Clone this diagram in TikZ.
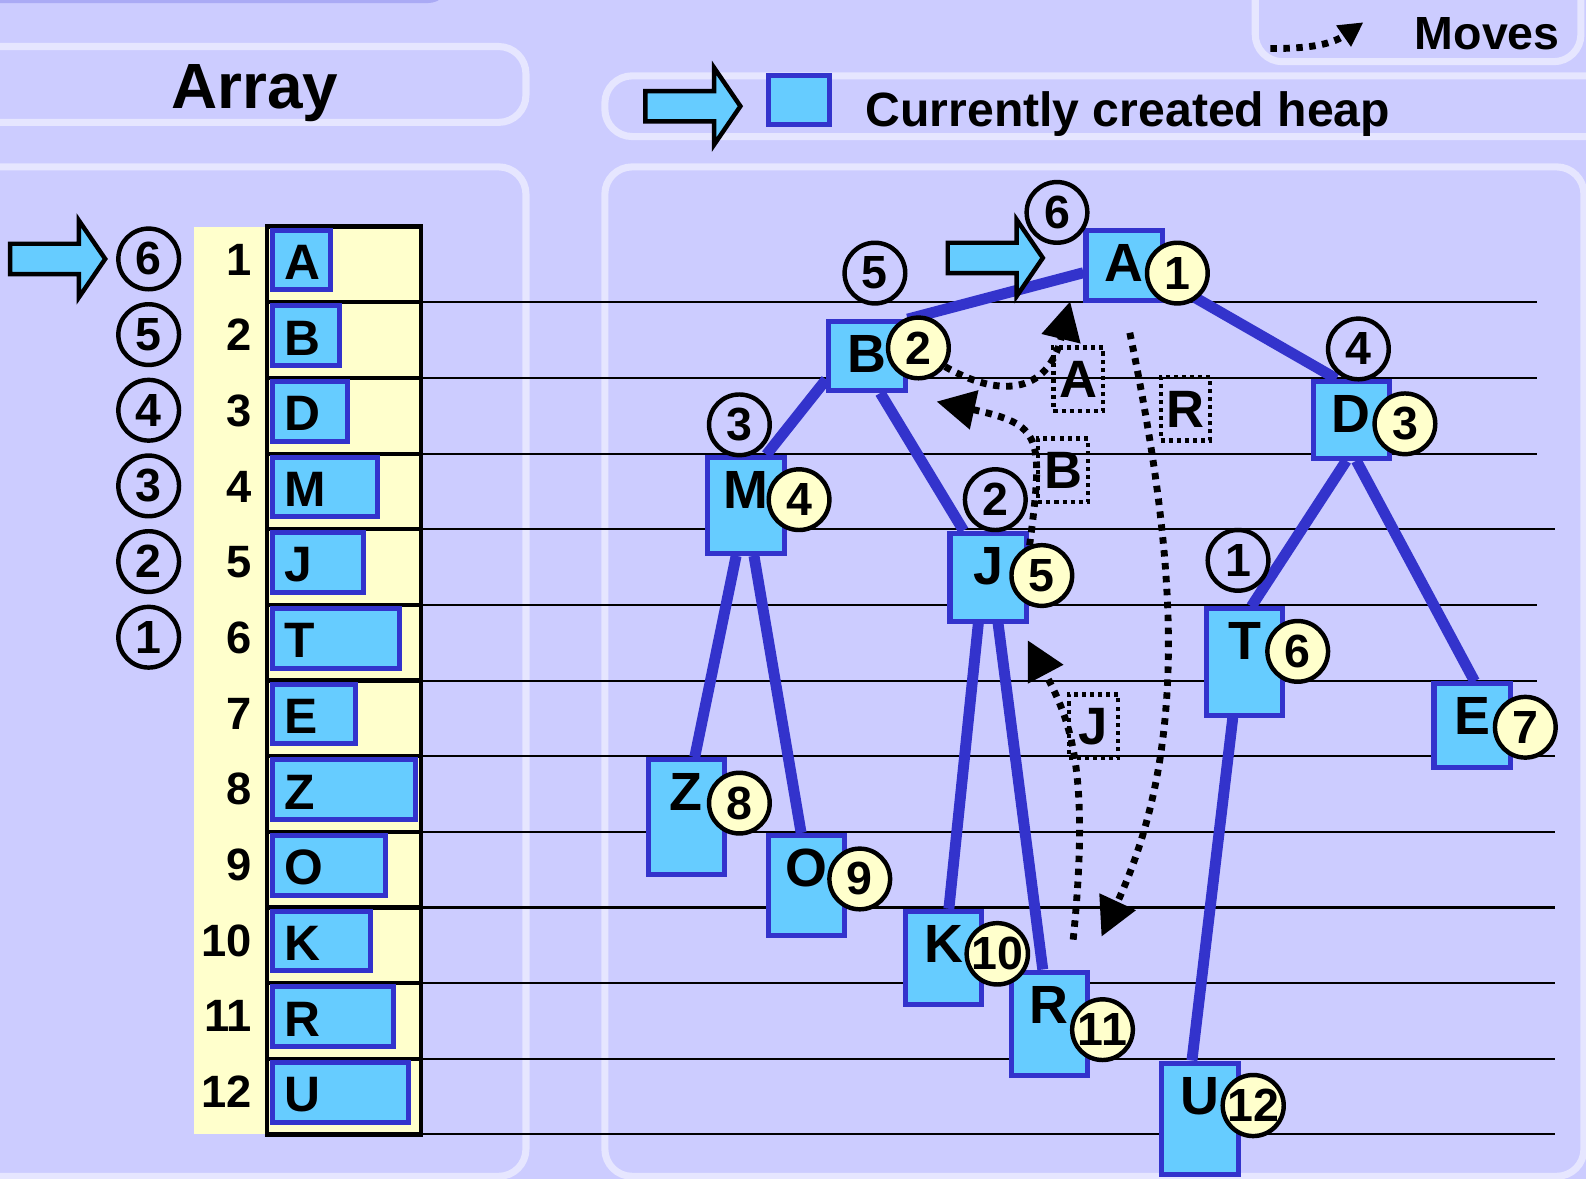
\documentclass[tikz,border=0pt]{standalone}
\usepackage{fontspec}
\setmainfont{Liberation Sans}
\usetikzlibrary{arrows.meta,calc}
\definecolor{lav}{RGB}{204,204,255}
\definecolor{lavrule}{RGB}{230,230,255}
\definecolor{lavdark}{RGB}{170,170,245}
\definecolor{keyfill}{RGB}{102,204,255}
\definecolor{keyedge}{RGB}{51,51,204}
\definecolor{idxbg}{RGB}{255,255,204}
\newcommand\bsz[1]{\fontsize{#1}{#1}\selectfont\bfseries}
\pgfdeclarelayer{back}
\pgfdeclarelayer{edges}
\pgfsetlayers{back,edges,main}
\tikzset{
  panel/.style={draw=lavrule,line width=1.75pt,rounded corners=6.75pt},
  rowline/.style={line width=0.5pt},
  abox/.style={draw=keyedge,fill=keyfill,line width=1.25pt,anchor=north west,
               minimum height=14.75pt,inner sep=0pt},
  alett/.style={font=\bsz{12.3},anchor=west,inner sep=0pt,xshift=3.4pt,yshift=-0.6pt},
  idx/.style={font=\bsz{11.2},inner sep=0pt,anchor=base east},
  ocirc/.style={circle,draw=black,fill=lav,line width=1.1pt,minimum size=15pt,
                inner sep=0pt,font=\bsz{11.5}},
  ycirc/.style={ocirc,fill=idxbg},
  tbox/.style={draw=keyedge,fill=keyfill,line width=1.25pt,anchor=north,
               minimum width=18.9pt,inner sep=0pt,text height=9.5pt,font=\bsz{13.3}},
  tedge/.style={draw=keyedge,line width=2.7pt},
  move/.style={line width=1.7pt,dash pattern=on 1.6pt off 1.6pt,
               -{Triangle[length=9.5pt,width=9.5pt]}},
  mvlbl/.style={draw,line width=1.05pt,dash pattern=on 1pt off 1pt,
                minimum width=12.25pt,minimum height=15.75pt,inner sep=0pt,
                text height=9.2pt,text depth=0pt,font=\bsz{13}},
  fatarrow/.style={draw=black,fill=keyfill,line width=1.1pt,line join=miter},
  pics/pointer/.style={code={
    \path[fatarrow] (0,0) -- (-26,-38) -- (-26,-15) -- (-94,-15) -- (-94,15)
      -- (-26,15) -- (-26,38) -- cycle;}},
}

\begin{document}
\begin{tikzpicture}[x=0.25pt,y=-0.25pt]
  \useasboundingbox (0,0) rectangle (1568,1165.6);

  % background, panels, array frame and row rules
  \begin{pgfonlayer}{back}
    \fill[lav] (0,0) rectangle (1568,1165.6);
    \draw[lavdark,line width=1pt,rounded corners=5pt] (-40,-60) rectangle (443,1);
    \draw[panel] (-40,46) rectangle (520,121);
    \draw[panel] (-40,165) rectangle (520,1163);
    \draw[panel] (598,75) rectangle (1640,135);
    \draw[panel] (1241,-40) rectangle (1563,61);
    \draw[panel] (598,165) rectangle (1566,1163);
    \fill[idxbg] (192,224) rectangle (416,1121.6);
    \foreach \row in {2,...,12}
      \draw[line width=1pt] (264,{224+(\row-1)*74.8}) -- (416,{224+(\row-1)*74.8});
    \foreach \row/\e in {2/1520,3/1520,4/1520,5/1537,6/1520,7/1520,8/1537,
                         9/1537,10/1537,11/1537,12/1537,13/1537}
      \draw[rowline] (416,{224+(\row-1)*74.8}) -- (\e,{224+(\row-1)*74.8});
    \draw[line width=1.1pt] (264,224) rectangle (416,1121.6);
  \end{pgfonlayer}

  % headings and legend
  \node[font=\bsz{15.8},anchor=base,inner sep=0pt] (arrtitle) at (252,107) {Array};
  \pic at (732,105) {pointer};
  \node[abox,anchor=center,minimum width=15pt,minimum height=12pt] (keysq) at (790,99) {};
  \node[font=\bsz{11.9},anchor=base west,inner sep=0pt] (heaptxt) at (855,125)
        {Currently created heap};
  \node[font=\bsz{11.5},anchor=base west,inner sep=0pt] (movestxt) at (1398,49) {Moves};
  \coordinate (mvfrom) at (1256,48);
  \coordinate (mvto) at (1348,22);
  \draw[move,-{Triangle[length=6pt,width=6pt]}] (mvfrom)
        .. controls (1290,48) and (1315,45) .. (mvto);

  % the array
  \foreach \row/\key/\bw in {1/A/63,2/B/72,3/D/80,4/M/109,5/J/95,6/T/131,
                             7/E/87,8/Z/147,9/O/117,10/K/102,11/R/125,12/U/140} {
    \node[abox,minimum width={(\bw-5)*0.25pt}] (c\row) at (266.5,{224+(\row-1)*74.8+1}) {};
    \node[alett] (l\row) at (c\row.west) {\key};
    \node[idx] (n\row) at (250,{224+(\row-1)*74.8+48}) {\row};
  }
  \foreach \row/\ord in {1/6,2/5,3/4,4/3,5/2,6/1}
    \node[ocirc] (lo\ord) at (147,{224+(\row-1)*74.8+32}) {\ord};
  \pic at (104,256) {pointer};

  % the heap
  \node[tbox,minimum height=17.25pt,text depth=1.5pt]  (A) at (1111.5,225.5) {A};
  \node[tbox,minimum height=17pt,text depth=1.25pt]    (B) at (857,315.5)    {B};
  \node[tbox,minimum height=19pt,text depth=3.25pt]    (D) at (1336,374.5)   {D};
  \node[tbox,minimum height=23.75pt,text depth=8pt]    (M) at (737.5,449.5)  {M};
  \node[tbox,minimum height=21.75pt,text depth=6pt]    (J) at (977,524.5)    {J};
  \node[tbox,minimum height=26.25pt,text depth=10.5pt] (T) at (1230.5,599.5) {T};
  \node[tbox,minimum height=20.75pt,text depth=5pt]    (E) at (1455.5,673.5) {E};
  \node[tbox,minimum height=28.5pt,text depth=12.75pt] (Z) at (678.5,748.5)  {Z};
  \node[tbox,minimum height=24.75pt,text depth=9pt]    (O) at (797.5,823.5)  {O};
  \node[tbox,minimum height=23pt,text depth=7.25pt]    (K) at (933,898.5)    {K};
  \node[tbox,minimum height=25.5pt,text depth=9.75pt]  (R) at (1037.5,958.5) {R};
  \node[tbox,minimum height=27.5pt,text depth=11.75pt] (U) at (1186.5,1048.5) {U};

  \node[ycirc] (A1) at (1164,270)   {1};
  \node[ycirc] (B2) at (908,344)    {2};
  \node[ycirc] (D3) at (1389,419)   {3};
  \node[ycirc] (M4) at (790,494)    {4};
  \node[ycirc] (J5) at (1030,569)   {5};
  \node[ycirc] (T6) at (1283,644)   {6};
  \node[ycirc] (E7) at (1508,719)   {7};
  \node[ycirc] (Z8) at (731,794)    {8};
  \node[ycirc] (O9) at (850,869)    {9};
  \node[ycirc] (K10) at (986,943)   {10};
  \node[ycirc] (R11) at (1090,1018) {11};
  \node[ycirc] (U12) at (1239,1093) {12};

  \node[ocirc] (o6) at (1045,210) {6};
  \node[ocirc] (o5) at (865,270)  {5};
  \node[ocirc] (o4) at (1343,345) {4};
  \node[ocirc] (o3) at (731,420)  {3};
  \node[ocirc] (o2) at (984,494)  {2};
  \node[ocirc] (o1) at (1224,554) {1};

  \begin{pgfonlayer}{edges}
    \draw[tedge] (B.north east) -- (A.190);
    \draw[tedge] (A.-20) -- (D.110);
    \draw[tedge] (B.210) -- (M.68);
    \draw[tedge] (B.-70) -- (J.118);
    \draw[tedge] (M.-101) -- (Z.82);
    \draw[tedge] (M.-81) -- (O.96);
    \draw[tedge] (J.-102) -- (K.84);
    \draw[tedge] (J.-78) -- (R.97);
    \draw[tedge] (D.-97) -- (T.83);
    \draw[tedge] (D.-83) -- (E.87);
    \draw[tedge] (T.-102) -- (U.98);
  \end{pgfonlayer}

  % moves
  \node[mvlbl] (mA) at (1066,375) {A};
  \node[mvlbl] (mB) at (1051,465) {B};
  \node[mvlbl] (mJ) at (1081,718) {J};
  \node[mvlbl] (mR) at (1172,404) {R};
  \coordinate (toA) at (1058,298);
  \coordinate (toB) at (926,397);
  \coordinate (fromJ) at (1061,929);
  \coordinate (toJ) at (1016,633);
  \coordinate (fromR) at (1117,329);
  \coordinate (toR) at (1089,926);
  \draw[move] (B2.-35) .. controls (985,392) and (1035,392) .. (toA);
  \draw[move] (J5.112) .. controls (1032,430) and (1030,420) .. (toB);
  \draw[move] (fromJ) .. controls (1078,760) and (1058,712) .. (toJ);
  \draw[move] (fromR) .. controls (1165,560) and (1175,740) .. (toR);

  \pic at (1031,255) {pointer};
\end{tikzpicture}
\end{document}
